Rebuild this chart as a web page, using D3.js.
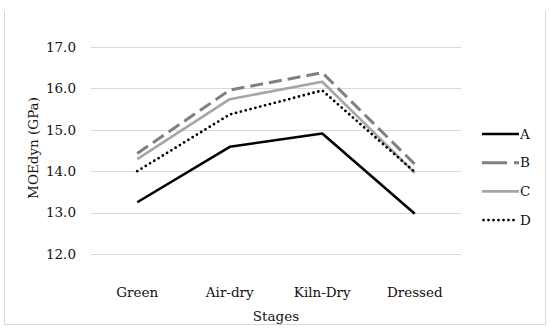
<!DOCTYPE html>
<html>
<head>
<meta charset="utf-8">
<script src="https://cdn.jsdelivr.net/npm/d3@7"></script>
<style>
    body { margin: 0; background: #fff; }
    text { font-family: "DejaVu Serif", serif; fill: #111; }
</style>
</head>
<body>
<div id="chart"></div>
<script>
'use strict';

const stages = ['Green', 'Air-dry', 'Kiln-Dry', 'Dressed'];
const seriesNames = ['A', 'B', 'C', 'D'];
const valuesA = [13.25, 14.59, 14.91, 12.97];
const valuesB = [14.43, 15.96, 16.38, 14.17];
const valuesC = [14.29, 15.74, 16.16, 13.96];
const valuesD = [14.00, 15.37, 15.95, 13.98];
const yTicks = [12, 13, 14, 15, 16, 17];

const W = 550, H = 331;
const margin = { left: 91, right: 89, top: 47, bottom: 77 };
const FONT = '13.5px';

//line look for each series
const looks = {
    A: { color: '#000000', width: 2.6, dash: null, cap: 'butt' },
    B: { color: '#808080', width: 3, dash: '13,6', cap: 'butt' },
    C: { color: '#a6a6a6', width: 2.6, dash: null, cap: 'butt' },
    D: { color: '#000000', width: 2.8, dash: '0,5', cap: 'round' }
};

const series = [
    { name: 'A', values: valuesA },
    { name: 'B', values: valuesB },
    { name: 'C', values: valuesC },
    { name: 'D', values: valuesD }
];

const svg = d3.select('#chart')
    .append('svg')
    .attr('width', W)
    .attr('height', H);

//outer frame (top is cut off in the original)
svg.append('path')
    .attr('d', `M4.5,11 V324.5 H545.5 V11`)
    .attr('fill', 'none')
    .attr('stroke', '#d9d9d9')
    .attr('stroke-width', 1);

const x = d3.scaleBand()
    .domain(stages)
    .range([margin.left, W - margin.right]);

const y = d3.scaleLinear()
    .domain([12, 17])
    .range([H - margin.bottom, margin.top]);

//gridlines
svg.append('g')
    .selectAll('line')
    .data(yTicks)
    .enter()
    .append('line')
    .attr('x1', margin.left)
    .attr('x2', W - margin.right)
    .attr('y1', d => Math.round(y(d)) + 0.5)
    .attr('y2', d => Math.round(y(d)) + 0.5)
    .attr('stroke', '#d9d9d9')
    .attr('stroke-width', 1);

//y axis labels
const yAxis = svg.append('g')
    .attr('transform', `translate(${margin.left - 15},0)`)
    .call(d3.axisLeft(y).tickValues(yTicks).tickFormat(d3.format('.1f')).tickSize(0));
yAxis.select('.domain').remove();
yAxis.selectAll('text')
    .attr('x', 0)
    .style('fill', '#111')
    .style('font-size', FONT)
    .style('font-family', '"DejaVu Serif", serif');

//x axis labels
const xAxis = svg.append('g')
    .attr('transform', `translate(0,${H - margin.bottom + 38})`)
    .call(d3.axisBottom(x).tickSize(0));
xAxis.select('.domain').remove();
xAxis.selectAll('text')
    .attr('y', 0)
    .attr('dy', '0.35em')
    .style('fill', '#111')
    .style('font-size', FONT)
    .style('font-family', '"DejaVu Serif", serif');

//axis titles
svg.append('text')
    .attr('x', (margin.left + W - margin.right) / 2)
    .attr('y', 316)
    .attr('dy', '0.35em')
    .attr('text-anchor', 'middle')
    .style('font-size', FONT)
    .text('Stages');

svg.append('text')
    .attr('transform', `translate(33,148) rotate(-90)`)
    .attr('dy', '0.35em')
    .attr('text-anchor', 'middle')
    .style('font-size', FONT)
    .text('MOEdyn (GPa)');

//lines
const line = d3.line()
    .x((d, i) => x(stages[i]) + x.bandwidth() / 2)
    .y(d => y(d));

svg.append('g')
    .selectAll('path')
    .data(series)
    .enter()
    .append('path')
    .attr('d', d => line(d.values))
    .attr('fill', 'none')
    .attr('stroke', d => looks[d.name].color)
    .attr('stroke-width', d => looks[d.name].width)
    .attr('stroke-dasharray', d => looks[d.name].dash)
    .attr('stroke-linecap', d => looks[d.name].cap)
    .attr('stroke-linejoin', 'round');

//legend
const legend = svg.append('g')
    .selectAll('g')
    .data(seriesNames)
    .enter()
    .append('g')
    .attr('transform', (d, i) => `translate(482,${134 + i * 28.7})`);

legend.append('line')
    .attr('x1', d => looks[d].cap === 'round' ? 1.5 : 0)
    .attr('x2', d => looks[d].cap === 'round' ? 36 : 37)
    .attr('stroke', d => looks[d].color)
    .attr('stroke-width', d => looks[d].width)
    .attr('stroke-dasharray', d => d === 'B' ? '25,7' : looks[d].dash)
    .attr('stroke-linecap', d => looks[d].cap);

legend.append('text')
    .attr('x', 38)
    .attr('dy', '0.35em')
    .style('font-size', FONT)
    .text(d => d);
</script>
</body>
</html>
